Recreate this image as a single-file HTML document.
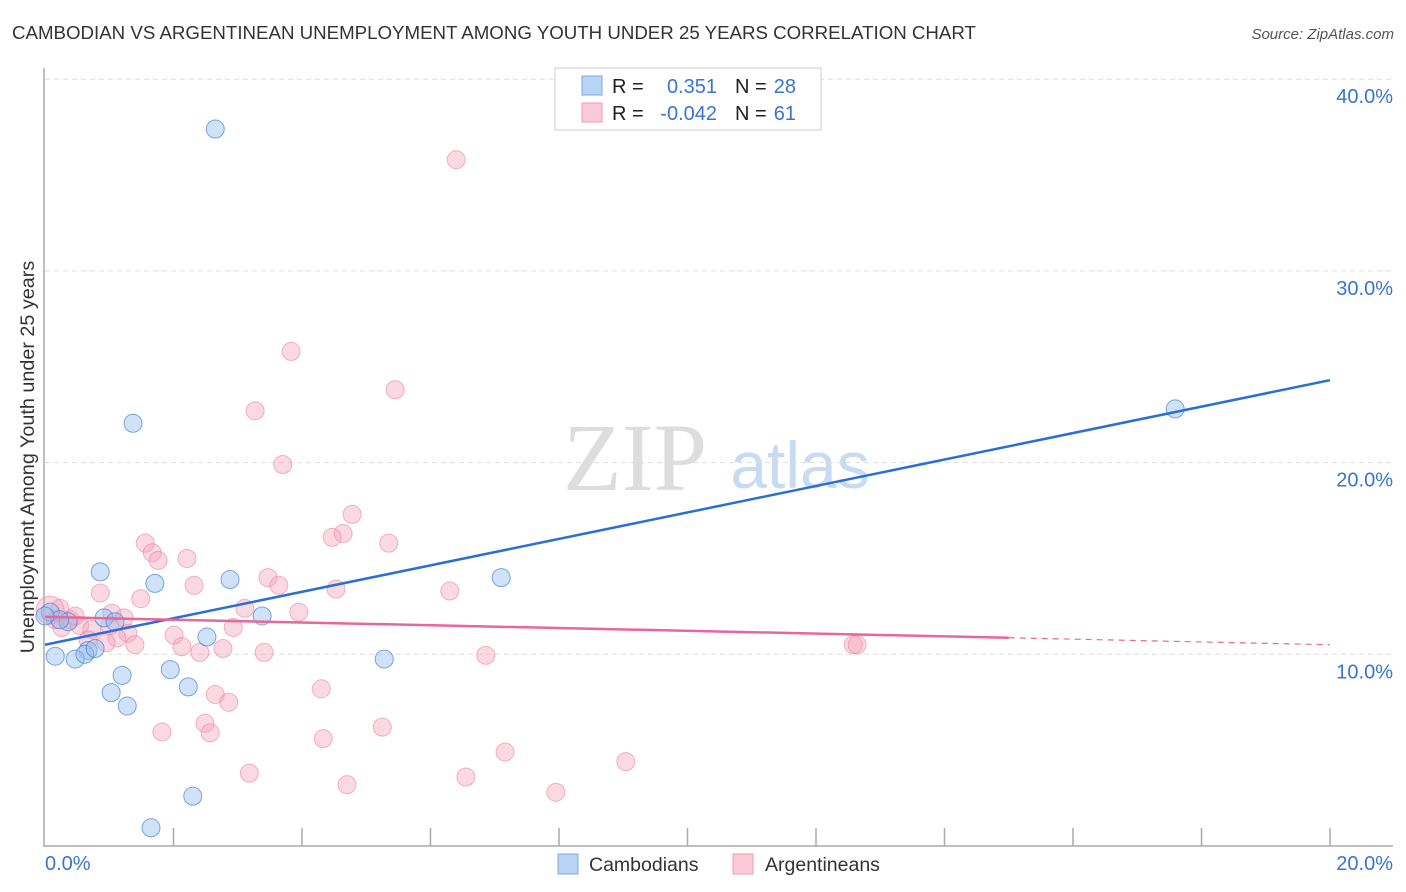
<!DOCTYPE html>
<html><head><meta charset="utf-8"><style>
body{margin:0;background:#fff;font-family:"Liberation Sans",sans-serif;}
svg{display:block}
</style></head><body>
<svg id="chart" width="1406" height="892" viewBox="0 0 1406 892">
<text x="12" y="39" font-size="18.7" fill="#333">CAMBODIAN VS ARGENTINEAN UNEMPLOYMENT AMONG YOUTH UNDER 25 YEARS CORRELATION CHART</text>
<text x="1394" y="39" font-size="15" fill="#555" font-style="italic" text-anchor="end">Source: ZipAtlas.com</text>
<g>
<text x="635" y="490" font-size="96" fill="#ddd" font-family="Liberation Serif,serif" text-anchor="middle">ZIP</text>
<text x="800" y="488" font-size="66" fill="#c8dbf3" text-anchor="middle">atlas</text>
</g>
<g id="grid"></g>
<g id="axes"></g>
<g id="pts"></g>
<g id="lines"></g>
<text transform="translate(34,457) rotate(-90)" font-size="19.8" fill="#333" text-anchor="middle">Unemployment Among Youth under 25 years</text>
<g>
<rect x="555" y="68" width="266" height="62" fill="#fff" stroke="#ccc"/>
<rect x="582" y="76" width="20" height="19" fill="#b9d4f5" stroke="#7fa8e0"/>
<rect x="582" y="103" width="20" height="19" fill="#fbc9d7" stroke="#f09ab4"/>
<text x="612" y="93" font-size="20" fill="#222">R =</text>
<text x="717" y="93" font-size="20" fill="#3a74d0" text-anchor="end">0.351</text>
<text x="735" y="93" font-size="20" fill="#222">N =</text>
<text x="796" y="93" font-size="20" fill="#3a74d0" text-anchor="end">28</text>
<text x="612" y="120" font-size="20" fill="#222">R =</text>
<text x="717" y="120" font-size="20" fill="#3a74d0" text-anchor="end">-0.042</text>
<text x="735" y="120" font-size="20" fill="#222">N =</text>
<text x="796" y="120" font-size="20" fill="#3a74d0" text-anchor="end">61</text>
</g>
<g>
<rect x="558" y="854" width="20" height="20" fill="#b9d4f5" stroke="#7fa8e0"/>
<text x="589" y="871" font-size="19.5" fill="#333">Cambodians</text>
<rect x="733" y="854" width="20" height="20" fill="#fbc9d7" stroke="#f09ab4"/>
<text x="765" y="871" font-size="19.5" fill="#333">Argentineans</text>
</g>
</svg>
<script>
const yTicks=[10,20,30,40];
const yTickLabels=["10.0%","20.0%","30.0%","40.0%"];
const xTicks=[2,4,6,8,10,12,14,16,18,20];
const xEndLabels=["0.0%","20.0%"];
const camX=[2.65,1.37,17.59,0.86,1.71,2.88,7.10,3.38,0.92,1.09,0.36,0.08,2.52,0.67,0.16,0.47,0.62,1.95,1.20,1.03,2.23,1.28,5.28,2.30,1.65,0.23,0.78,0.0];
const camY=[37.4,22.05,22.8,14.3,13.7,13.9,14.0,12.0,11.9,11.7,11.7,12.2,10.9,10.2,9.9,9.75,10.0,9.2,8.9,8.0,8.3,7.3,9.75,2.6,0.95,11.8,10.3,12.0];
const argX=[6.40,3.83,5.45,3.27,3.70,4.78,4.64,4.47,5.35,1.56,1.67,1.76,2.21,0.86,1.49,2.32,3.47,3.64,4.53,6.30,3.11,3.95,1.04,1.23,0.23,0.39,0.54,0.73,1.29,1.12,0.95,1.40,2.01,2.13,2.93,2.41,2.77,3.41,6.86,12.58,12.64,2.65,2.86,4.30,2.49,2.57,1.82,5.25,4.33,7.16,3.18,9.04,6.55,4.70,7.95,0.08,0.16,0.47,0.26,0.67,1.01];
const argY=[35.8,25.8,23.8,22.7,19.9,17.3,16.3,16.1,15.8,15.8,15.3,14.9,15.0,13.2,12.9,13.6,14.0,13.6,13.4,13.3,12.4,12.2,12.15,11.9,12.4,11.8,11.5,11.3,11.1,10.85,10.6,10.5,11.0,10.4,11.4,10.1,10.3,10.1,9.95,10.5,10.5,7.9,7.5,8.2,6.4,5.9,5.95,6.2,5.6,4.9,3.8,4.4,3.6,3.2,2.8,12.3,11.8,12.0,11.4,10.75,11.5];
const camTrend=[10.5,24.3];
const argTrend=[11.95,10.5];
const argSolidEnd=15;
const NS="http://www.w3.org/2000/svg";
const X=v=>45+v*64.25, Y=v=>846-v*19.17;
function mk(tag,attrs,parent){const e=document.createElementNS(NS,tag);for(const k in attrs)e.setAttribute(k,attrs[k]);document.getElementById(parent).appendChild(e);return e;}
yTicks.forEach((t,i)=>{
  const g=mk('line',{x1:45,x2:1393,y1:Y(t),y2:Y(t),stroke:'#ddd','stroke-dasharray':'5,4'},'grid');
  
  
  const l=mk('text',{x:1393,y:Y(t)+24,'font-size':20,fill:'#3a74d0','text-anchor':'end'},'axes');
  l.textContent=yTickLabels[i];
  
  
});
const ax=mk('path',{d:'M44 68 V846 H1393',fill:'none',stroke:'#aaa','stroke-width':1.5},'axes');


xTicks.forEach(t=>{
  const e=mk('line',{x1:X(t),x2:X(t),y1:828,y2:846,stroke:'#aaa','stroke-width':1.5},'axes');
  
  
});
[0,20].forEach((t,i)=>{
  const e=mk('text',{x:i?1393:45,y:870,'font-size':20,fill:'#3a74d0','text-anchor':i?'end':'start'},'axes');
  e.textContent=xEndLabels[i];
  
  
});
argX.forEach((v,i)=>{
  const big=(i===55);
  const c=mk('circle',{cx:X(v),cy:Y(argY[i]),r:big?14:9,fill:'rgba(246,160,186,0.4)',stroke:'rgba(236,130,160,0.6)','stroke-width':1},'pts');
  
  
});
camX.forEach((v,i)=>{
  const c=mk('circle',{cx:X(v),cy:Y(camY[i]),r:9,fill:'rgba(150,190,240,0.45)',stroke:'rgba(70,130,215,0.7)','stroke-width':1},'pts');
  
  
});
const bl=mk('line',{x1:X(0),y1:Y(camTrend[0]),x2:X(20),y2:Y(camTrend[1]),stroke:'#2a6fd6','stroke-width':2.5},'lines');


const pm=argTrend[0]+(argTrend[1]-argTrend[0])*argSolidEnd/20;
const pl=mk('line',{x1:X(0),y1:Y(argTrend[0]),x2:X(argSolidEnd),y2:Y(pm),stroke:'#e8679a','stroke-width':2.5},'lines');


const pd=mk('line',{x1:X(argSolidEnd),y1:Y(pm),x2:X(20),y2:Y(argTrend[1]),stroke:'#e8679a','stroke-width':1.2,'stroke-dasharray':'6,5'},'lines');


</script>
</body></html>
